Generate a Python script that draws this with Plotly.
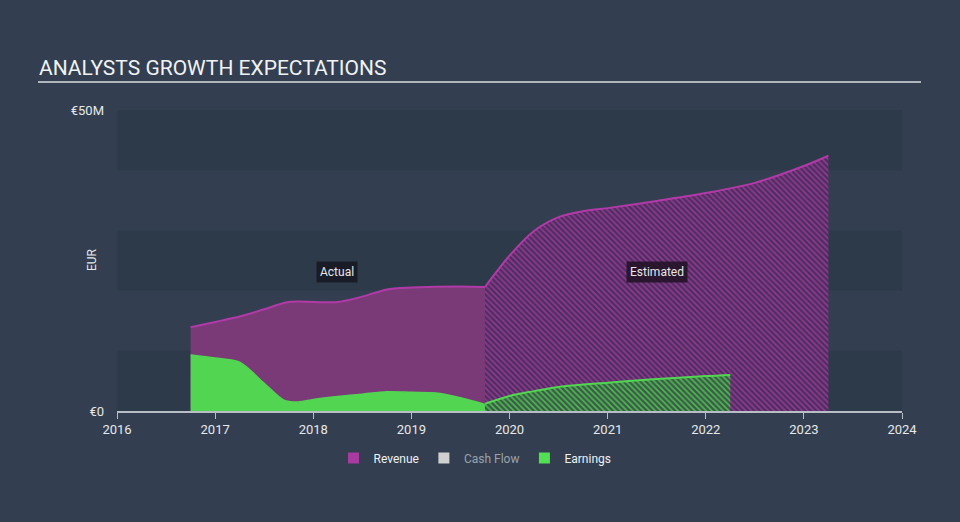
import plotly.graph_objects as go

# ---- data (EUR millions) ----
actual_x = [2016.75, 2017.0, 2017.25, 2017.5, 2017.75, 2018.25, 2018.5, 2018.75, 2019.0, 2019.5, 2019.75]
revenue_actual = [13.9, 14.8, 15.7, 16.9, 18.1, 18.1, 19.0, 20.2, 20.5, 20.7, 20.6]

earn_actual_x = [2016.75, 2017.0, 2017.25, 2017.5, 2017.7, 2017.85, 2018.0, 2018.25, 2018.5, 2018.75, 2019.0, 2019.25, 2019.5, 2019.75]
earnings_actual = [9.3, 8.8, 8.1, 4.6, 1.8, 1.5, 1.9, 2.4, 2.8, 3.2, 3.1, 3.0, 2.2, 1.1]

est_x = [2019.75, 2020.0, 2020.25, 2020.5, 2020.75, 2021.0, 2021.5, 2022.0, 2022.5, 2023.0, 2023.25]
revenue_est = [20.6, 25.8, 29.9, 32.2, 33.2, 33.7, 34.9, 36.2, 37.9, 40.7, 42.4]

earn_est_x = [2019.75, 2020.0, 2020.25, 2020.5, 2021.0, 2021.5, 2022.0, 2022.25]
earnings_est = [1.2, 2.5, 3.3, 4.0, 4.7, 5.3, 5.8, 6.0]

years = [2016, 2017, 2018, 2019, 2020, 2021, 2022, 2023, 2024]
y_ticks = [0, 50]
y_labels = ["€0", "€50M"]

BG = "#333f50"
BAND = "#2d3a4a"
REV_LINE = "#b23aa8"
REV_FILL = "#7a3a78"
EARN = "#52d652"
AXIS = "#b8bec6"

fig = go.Figure()

fig.add_trace(go.Scatter(x=actual_x, y=revenue_actual, mode="lines", fill="tozeroy",
                         fillcolor=REV_FILL, line=dict(color=REV_LINE, width=2, shape="spline", smoothing=0.8),
                         showlegend=False, hoverinfo="skip"))
fig.add_trace(go.Scatter(x=est_x, y=revenue_est, mode="lines", fill="tozeroy",
                         line=dict(color=REV_LINE, width=2, shape="spline", smoothing=0.9),
                         fillpattern=dict(shape="\\", bgcolor="#4a3060", fgcolor="#963790",
                                          size=4, solidity=0.4, fillmode="replace"),
                         showlegend=False, hoverinfo="skip"))
fig.add_trace(go.Scatter(x=earn_actual_x, y=earnings_actual, mode="lines", fill="tozeroy",
                         fillcolor=EARN, line=dict(color=EARN, width=1.5, shape="spline", smoothing=0.8),
                         showlegend=False, hoverinfo="skip"))
fig.add_trace(go.Scatter(x=earn_est_x, y=earnings_est, mode="lines", fill="tozeroy",
                         line=dict(color=EARN, width=2, shape="spline", smoothing=0.9),
                         fillpattern=dict(shape="\\", bgcolor="#3d5a4c", fgcolor="#4cbc4c",
                                          size=4, solidity=0.4, fillmode="replace"),
                         showlegend=False, hoverinfo="skip"))

# legend entries
for name, col in [("Revenue", "#a83aa0"),
                  ("<span style='color:#9aa3ad'>Cash Flow</span>", "#d0d0d0"),
                  ("Earnings", "#52e052")]:
    fig.add_trace(go.Scatter(x=[None], y=[None], mode="markers", name=name,
                             marker=dict(symbol="square", size=11, color=col)))

# bands
shapes = []
for y0 in [0, 20, 40]:
    shapes.append(dict(type="rect", xref="paper", yref="y", x0=0, x1=1, y0=y0, y1=y0 + 10,
                       fillcolor=BAND, line=dict(width=0), layer="below"))
# title underline
shapes.append(dict(type="line", xref="paper", yref="paper",
                   x0=(38 - 117) / 785, x1=(921 - 117) / 785,
                   y0=(411 - 82) / 301, y1=(411 - 82) / 301,
                   line=dict(color="#b0b6bd", width=2)))

annotations = [
    dict(text="ANALYSTS GROWTH EXPECTATIONS", xref="paper", yref="paper",
         x=(37 - 117) / 785, y=(411 - 68) / 301, xanchor="left", yanchor="middle",
         showarrow=False, font=dict(size=21, color="#f0f2f4", family="Roboto")),
    dict(text="EUR", xref="paper", yref="paper", x=(92 - 117) / 785, y=(411 - 260) / 301,
         textangle=-90, showarrow=False, xanchor="center", yanchor="middle",
         font=dict(size=12, color="#e6e8ea", family="Roboto")),
    dict(text="Actual", x=2018.24, y=23.1, xref="x", yref="y", showarrow=False,
         bgcolor="rgba(22,24,32,0.85)", borderpad=3,
         font=dict(size=12, color="#e8e8e8", family="Roboto")),
    dict(text="Estimated", x=2021.5, y=23.1, xref="x", yref="y", showarrow=False,
         bgcolor="rgba(30,18,34,0.85)", borderpad=3,
         font=dict(size=12, color="#e8e8e8", family="Roboto")),
]

fig.update_layout(
    width=960, height=522,
    paper_bgcolor=BG, plot_bgcolor=BG,
    margin=dict(l=117, r=58, t=110, b=111, autoexpand=False),
    font=dict(family="Roboto", color="#e6e8ea", size=12),
    shapes=shapes, annotations=annotations,
    showlegend=True,
    legend=dict(orientation="h", xref="paper", yref="paper", x=(475 - 117) / 785, y=(411 - 458) / 301,
                xanchor="center", yanchor="middle", font=dict(size=12, color="#eef0f2"),
                bgcolor="rgba(0,0,0,0)", itemclick=False, itemwidth=30),
    xaxis=dict(range=[2016, 2024], tickvals=years, ticktext=[str(v) for v in years],
               showgrid=False, zeroline=False, showline=True, linecolor=AXIS, linewidth=1.5,
               ticks="outside", ticklen=6, tickcolor=AXIS, tickwidth=1, automargin=False,
               tickfont=dict(size=13, color="#e6e8ea")),
    yaxis=dict(range=[0, 50], tickvals=y_ticks, ticktext=y_labels, showgrid=False,
               zeroline=False, showline=False, ticks="", ticklabelstandoff=12, automargin=False,
               tickfont=dict(size=13, color="#e6e8ea")),
)

fig.write_html("out.html", config={"displayModeBar": False},
               post_script="document.body.style.margin='0';document.body.style.padding='0';"
                           "document.body.style.background='#333f50';")
